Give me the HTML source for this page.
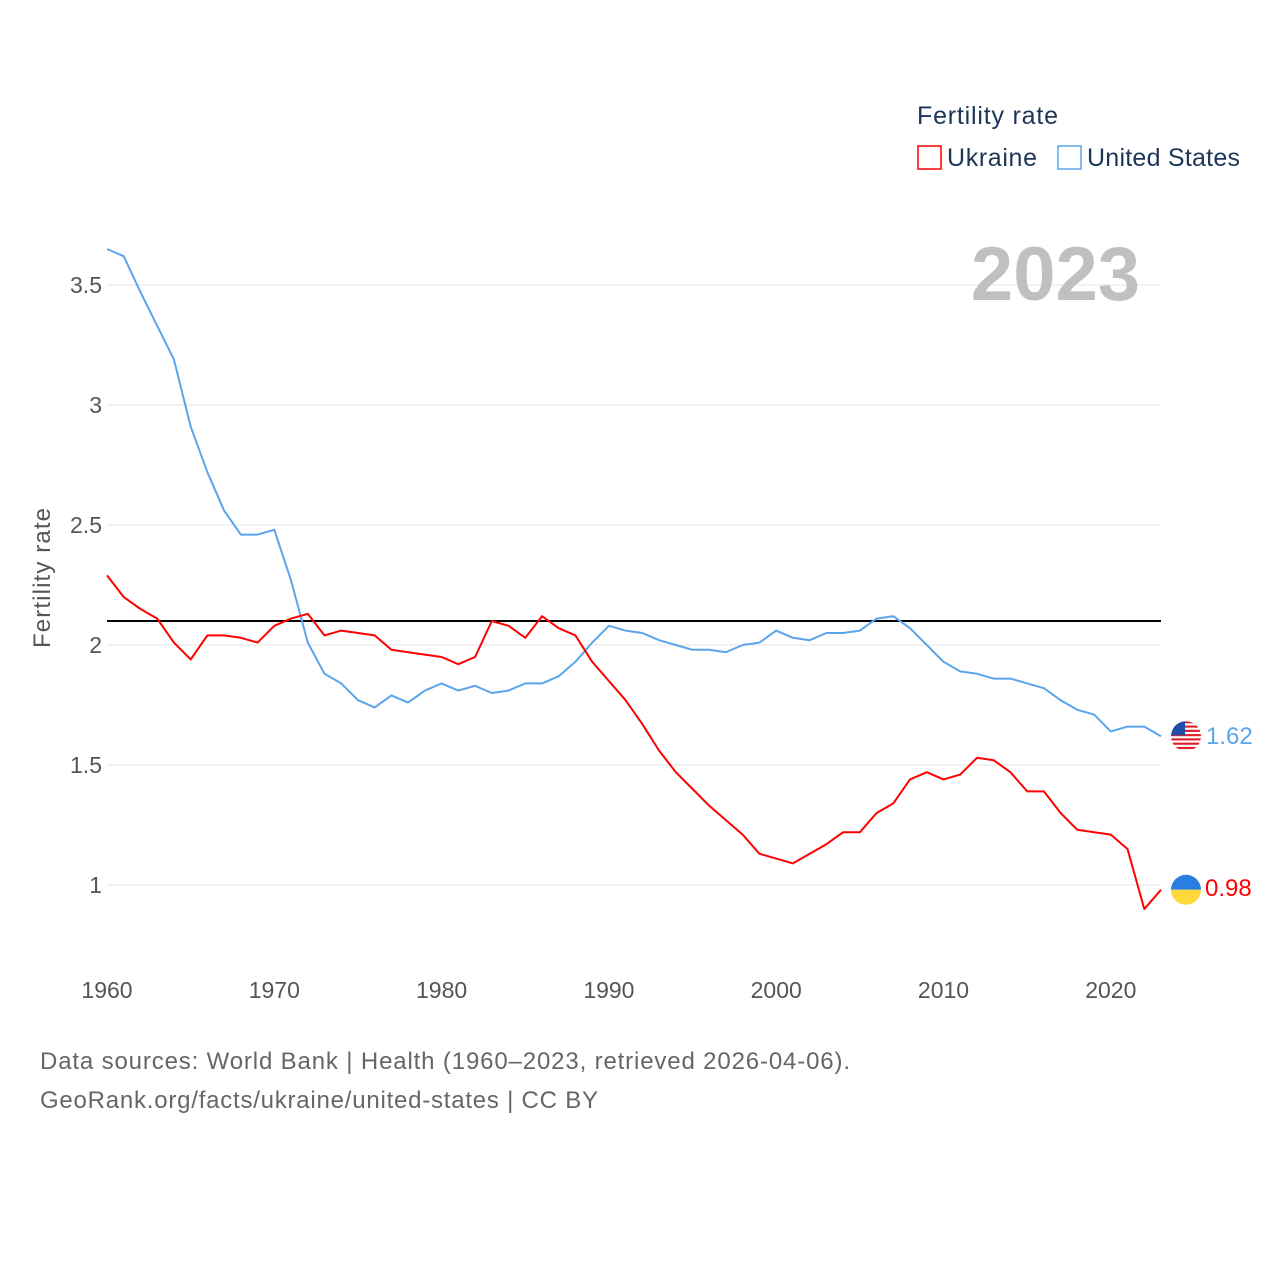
<!DOCTYPE html>
<html><head><meta charset="utf-8"><style>
html,body{margin:0;padding:0;background:#fff;}
svg{display:block;font-family:"Liberation Sans",sans-serif;}
</style></head><body>
<svg id="chart" width="1280" height="1280" viewBox="0 0 1280 1280">
<g id="grid"></g>
<g id="xaxis"></g>
<g id="yaxis"></g>
<text x="50" y="578" transform="rotate(-90 50 578)" text-anchor="middle" font-size="24" textLength="140" fill="#555">Fertility rate</text>
<text x="1140" y="300" text-anchor="end" font-size="76" font-weight="bold" fill="#c0c0c0">2023</text>
<g>
<text x="917" y="124" font-size="25" textLength="141" fill="#1d3557">Fertility rate</text>
<g><rect x="918" y="146" width="23" height="23" fill="none" stroke="#ff0000" stroke-width="1.5"/><text x="947" y="166" font-size="25" textLength="90" fill="#1d3557">Ukraine</text></g>
<g><rect x="1058" y="146" width="23" height="23" fill="none" stroke="#5aa5ec" stroke-width="1.5"/><text x="1087" y="166" font-size="25" textLength="153" fill="#1d3557">United States</text></g>
</g>
<g id="series"></g>
<text x="40" y="1069" font-size="24" textLength="810" fill="#666">Data sources: World Bank | Health (1960–2023, retrieved 2026-04-06).</text>
<text x="40" y="1108" font-size="24" textLength="558" fill="#666">GeoRank.org/facts/ukraine/united-states | CC BY</text>
</svg>
<script>
const years = [];
for (let y = 1960; y <= 2023; y++) years.push(y);
const ukraine = [2.29,2.20,2.15,2.11,2.01,1.94,2.04,2.04,2.03,2.01,2.08,2.11,2.13,2.04,2.06,2.05,2.04,1.98,1.97,1.96,1.95,1.92,1.95,2.10,2.08,2.03,2.12,2.07,2.04,1.93,1.85,1.77,1.67,1.56,1.47,1.40,1.33,1.27,1.21,1.13,1.11,1.09,1.13,1.17,1.22,1.22,1.30,1.34,1.44,1.47,1.44,1.46,1.53,1.52,1.47,1.39,1.39,1.30,1.23,1.22,1.21,1.15,0.90,0.98];
const unitedStates = [3.65,3.62,3.47,3.33,3.19,2.91,2.72,2.56,2.46,2.46,2.48,2.27,2.01,1.88,1.84,1.77,1.74,1.79,1.76,1.81,1.84,1.81,1.83,1.80,1.81,1.84,1.84,1.87,1.93,2.01,2.08,2.06,2.05,2.02,2.00,1.98,1.98,1.97,2.00,2.01,2.06,2.03,2.02,2.05,2.05,2.06,2.11,2.12,2.07,2.00,1.93,1.89,1.88,1.86,1.86,1.84,1.82,1.77,1.73,1.71,1.64,1.66,1.66,1.62];
const yTicks = [1,1.5,2,2.5,3,3.5];
const yTickLabels = ["1","1.5","2","2.5","3","3.5"];
const xTicks = [1960,1970,1980,1990,2000,2010,2020];
const replacementRate = 2.1;

const NS = "http://www.w3.org/2000/svg";
const X = yr => 107 + (yr - 1960) * (1161 - 107) / 63;
const Y = v => 885 - (v - 1) * 240;
function mk(tag, attrs, parent, txt){const e=document.createElementNS(NS,tag);for(const k in attrs)e.setAttribute(k,attrs[k]);if(txt!==undefined)e.textContent=txt;parent.appendChild(e);return e;}

const grid = document.getElementById('grid'), yax = document.getElementById('yaxis'), xax = document.getElementById('xaxis'), ser = document.getElementById('series');
yTicks.forEach((t,i)=>{
  const l = mk('line',{x1:107,x2:1161,y1:Y(t),y2:Y(t),stroke:'#e6e6e6','stroke-width':1},grid);
  
  
  const tx = mk('text',{x:102,y:Y(t)+8,'text-anchor':'end','font-size':23,fill:'#555'},yax,yTickLabels[i]);
  
  
});
xTicks.forEach(t=>{
  const tx = mk('text',{x:X(t),y:998,'text-anchor':'middle','font-size':23,fill:'#555'},xax,String(t));
  
  
});
const ref = mk('line',{x1:107,x2:1161,y1:Y(replacementRate),y2:Y(replacementRate),stroke:'#000','stroke-width':2},ser);



function line(vals,color,name){
  const p = mk('polyline',{points:vals.map((v,i)=>X(years[i]).toFixed(1)+','+Y(v).toFixed(1)).join(' '),fill:'none',stroke:color,'stroke-width':2,'stroke-linejoin':'round'},ser);
  
  
}
line(unitedStates,'#5aa5ec','united-states-line');
line(ukraine,'#ff0000','ukraine-line');

const usLast = unitedStates[unitedStates.length-1], uaLast = ukraine[ukraine.length-1];
const usG = mk('g',{},ser);


const cyU = Y(usLast);
mk('clipPath',{id:'cu'},usG); mk('circle',{cx:1186,cy:cyU,r:15},usG.lastChild);
const gu = mk('g',{'clip-path':'url(#cu)'},usG);
mk('rect',{x:1171,y:cyU-15,width:30,height:30,fill:'#fff'},gu);
for(let i=0;i<7;i++) mk('rect',{x:1171,y:cyU-15+i*30/7,width:30,height:30/14,fill:'#e0202a'},gu);
mk('rect',{x:1171,y:cyU-15,width:14,height:14,fill:'#1f4fa8'},gu);
const usT = mk('text',{x:1206,y:cyU+8,'font-size':24,fill:'#5aa5ec'},ser,usLast.toFixed(2));



const uaG = mk('g',{},ser);


const cyA = Y(uaLast);
mk('path',{d:`M1171 ${cyA} A15 15 0 0 1 1201 ${cyA} Z`,fill:'#2a7de1'},uaG);
mk('path',{d:`M1171 ${cyA} A15 15 0 0 0 1201 ${cyA} Z`,fill:'#ffd83a'},uaG);
const uaT = mk('text',{x:1205,y:cyA+6,'font-size':24,fill:'#ff0000'},ser,uaLast.toFixed(2));


</script>
</body></html>
